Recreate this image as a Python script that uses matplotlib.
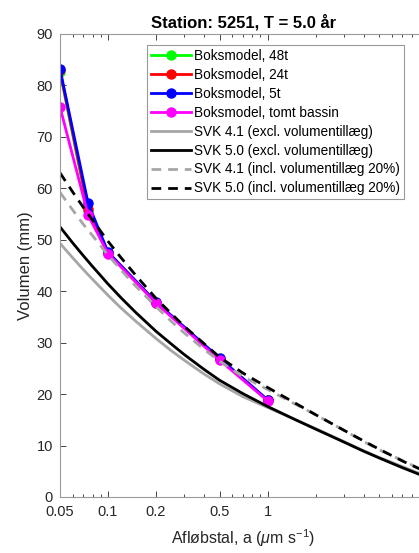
import numpy as np
import matplotlib
matplotlib.use('Agg')
import matplotlib.pyplot as plt
from matplotlib.ticker import FixedLocator, NullFormatter

plt.rcParams['font.family'] = ['Liberation Sans', 'DejaVu Sans']
plt.rcParams['mathtext.fontset'] = 'custom'
plt.rcParams['mathtext.rm'] = 'Liberation Sans'
plt.rcParams['mathtext.it'] = 'Liberation Sans:italic'

# Boksmodel results
box_x = [0.05, 0.075, 0.1, 0.2, 0.5, 1.0]
box_48t = [82.6, 55.6, 47.4, 37.8, 26.9, 18.8]
box_24t = [82.9, 56.0, 47.5, 37.8, 26.9, 18.8]
box_5t = [83.2, 57.1, 47.6, 37.9, 27.0, 18.9]
box_empty = [75.8, 54.8, 47.3, 37.7, 26.6, 18.7]

# SVK curves
svk_x = [0.05, 0.06, 0.07, 0.08, 0.1, 0.12, 0.15, 0.2, 0.25, 0.3, 0.4,
         0.5, 0.7, 1.0, 1.5, 2.0, 3.0, 4.0, 5.0, 7.0, 10.0]
svk41 = [49.3, 46.5, 44.2, 42.3, 39.2, 36.8, 34.1, 30.8, 28.4, 26.6, 23.9,
         22.0, 19.5, 17.4, 15.0, 13.3, 10.8, 9.0, 7.7, 5.9, 4.0]
svk50 = [52.5, 49.4, 46.9, 44.8, 41.4, 38.8, 35.8, 32.2, 29.7, 27.7, 24.8,
         22.7, 20.1, 17.6, 15.0, 13.2, 10.7, 8.9, 7.6, 5.7, 3.8]
svk41_incl = [59.2, 55.8, 53.0, 50.8, 47.0, 44.2, 40.9, 37.0, 34.1, 31.9, 28.7,
              26.4, 23.4, 20.9, 18.0, 16.0, 13.0, 10.8, 9.2, 7.1, 4.8]
svk50_incl = [63.0, 59.3, 56.3, 53.8, 49.7, 46.6, 43.0, 38.6, 35.6, 33.2, 29.8,
              27.2, 24.1, 21.3, 18.2, 16.0, 13.0, 10.9, 9.3, 7.0, 4.8]

xticks = [0.05, 0.1, 0.2, 0.5, 1]
xticklabels = ['0.05', '0.1', '0.2', '0.5', '1']
yticks = list(range(0, 100, 10))

fig = plt.figure(figsize=(4.19, 5.53), dpi=100)
# axes run past the right edge, like the cropped original
ax = fig.add_axes([0.1432, 0.1013, 0.876, 0.8373])

mk = dict(marker='o', markersize=6.5, linewidth=2.0)
ax.plot(box_x, box_48t, color='#00ff00', label='Boksmodel, 48t', **mk)
ax.plot(box_x, box_24t, color='#ff0000', label='Boksmodel, 24t', **mk)
ax.plot(box_x, box_5t, color='#0000ff', label='Boksmodel, 5t', **mk)
ax.plot(box_x, box_empty, color='#ff00ff', label='Boksmodel, tomt bassin', **mk)

gray = '#a6a6a6'
ax.plot(svk_x, svk41, color=gray, linewidth=2.0, label='SVK 4.1 (excl. volumentillæg)')
ax.plot(svk_x, svk50, color='black', linewidth=2.0, label='SVK 5.0 (excl. volumentillæg)')
ax.plot(svk_x, svk41_incl, color=gray, linewidth=2.0, linestyle=(0, (3.5, 2.5)),
        label='SVK 4.1 (incl. volumentillæg 20%)')
ax.plot(svk_x, svk50_incl, color='black', linewidth=2.0, linestyle=(0, (3.5, 2.5)),
        label='SVK 5.0 (incl. volumentillæg 20%)')

ax.set_xscale('log')
ax.set_xlim(0.05, 10)
ax.set_ylim(0, 90)
ax.xaxis.set_major_locator(FixedLocator(xticks))
ax.set_xticklabels(xticklabels)
minor = [v * d for d in [0.01, 0.1, 1] for v in range(2, 10)]
minor = [m for m in minor if 0.05 < m < 10 and round(m, 4) not in xticks]
ax.xaxis.set_minor_locator(FixedLocator(minor))
ax.xaxis.set_minor_formatter(NullFormatter())
ax.set_yticks(yticks)

ax.tick_params(which='both', direction='in', top=True, right=True,
               colors='#262626', labelsize=10.5)
ax.tick_params(axis='x', pad=5.5)
ax.tick_params(axis='y', pad=5)
ax.tick_params(which='major', length=4, width=0.6)
ax.tick_params(which='minor', length=2, width=0.6)
for s in ax.spines.values():
    s.set_color('#9a9a9a')
    s.set_linewidth(0.8)

ax.set_xlabel('Afløbstal, a ($\\mu$m s$^{-1}$)', fontsize=11.5, color='#262626', labelpad=6)
ax.set_ylabel('Volumen (mm)', fontsize=12, color='#262626', labelpad=3)
ax.set_title('Station: 5251, T = 5.0 år', fontsize=12, fontweight='bold', pad=5)

leg = ax.legend(loc='upper left', bbox_to_anchor=(147 / 419, 1 - 45 / 553),
                bbox_transform=fig.transFigure, fontsize=9.8, numpoints=1,
                handlelength=2.9, labelspacing=0.36, handletextpad=0.25,
                borderaxespad=0, borderpad=0.3, fancybox=False, framealpha=1)
leg.get_frame().set_edgecolor('#9a9a9a')
leg.get_frame().set_linewidth(0.8)

fig.savefig('out.png', dpi=100)
